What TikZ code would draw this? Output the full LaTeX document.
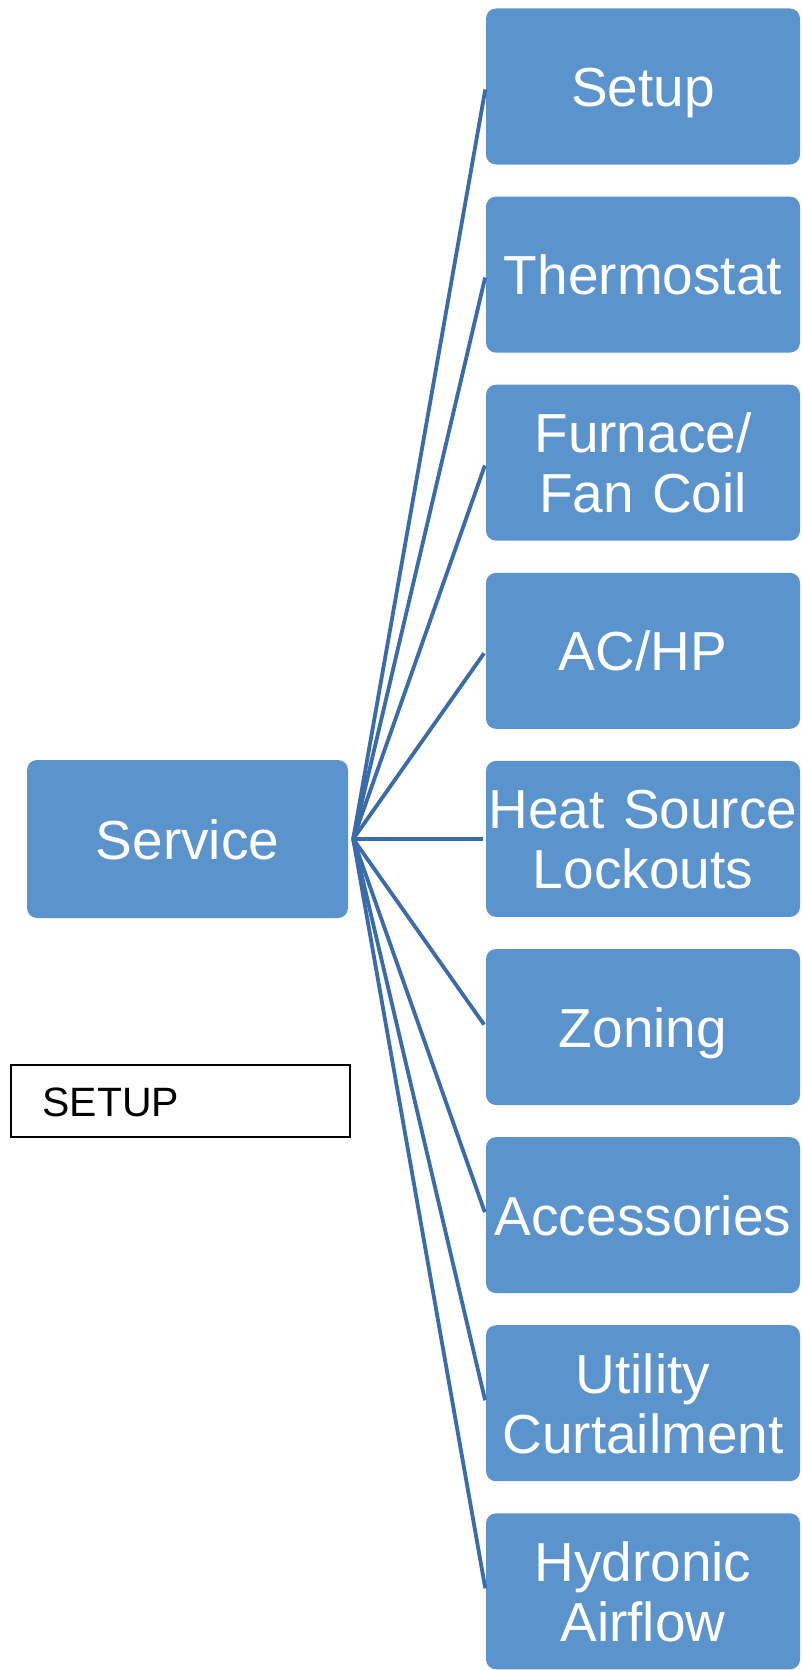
\documentclass[tikz,border=0pt]{standalone}
\usepackage{fontspec}
\setmainfont{Liberation Sans}
\usetikzlibrary{calc}
\definecolor{boxblue}{HTML}{5B93CD}
\definecolor{linkblue}{HTML}{3A6CAB}
\tikzset{
  tile/.style={fill=boxblue, draw=none, rounded corners=10pt, inner sep=0pt},
  childtile/.style={tile, minimum width=314pt, minimum height=156pt},
  lbl/.style={text=white, inner sep=0pt, text width=340pt, align=center,
    font=\fontsize{55}{60}\selectfont, anchor=base},
  link/.style={draw=linkblue, line width=3.8pt, shorten >=3pt}
}
\begin{document}
\begin{tikzpicture}[x=1pt, y=-1pt]
\useasboundingbox (0,0) rectangle (801,1670);

% parent box
\node[tile, minimum width=321pt, minimum height=158pt] (srv) at (187.5,839) {};
\node[lbl] (tsrv) at ($(srv.center)+(0,20)$) {Service};

% child boxes
\foreach \i in {0,...,8}{
  \node[childtile] (c\i) at (643,{86.5+188.1*\i}) {};
}

% single-line labels
\node[lbl] (t0) at ($(c0.center)+(0,20)$) {Setup};
\node[lbl] (t1) at ($(c1.center)+(0,20)$) {Thermostat};
\node[lbl] (t3) at ($(c3.center)+(0,20)$) {AC/HP};
\node[lbl] (t5) at ($(c5.center)+(0,20)$) {Zoning};
\node[lbl] (t6) at ($(c6.center)+(0,20)$) {Accessories};

% two-line labels
\node[lbl] (t2) at ($(c2.center)+(0,-10)$) {Furnace/\\Fan Coil};
\node[lbl] (t4) at ($(c4.center)+(0,-10)$) {Heat Source\\Lockouts};
\node[lbl] (t7) at ($(c7.center)+(0,-10)$) {Utility\\Curtailment};
\node[lbl] (t8) at ($(c8.center)+(0,-10)$) {Hydronic\\Airflow};

% connectors fanning out from the parent
\coordinate (hub) at ($(srv.east)+(5,0)$);
\foreach \i in {0,...,8}{
  \draw[link] (hub) -- (c\i.west);
}

% caption box
\node[draw=black, line width=1.2pt, minimum width=339pt, minimum height=72pt,
  inner sep=0pt] (cap) at (180.5,1101) {};
\node[anchor=base west, inner sep=0pt, font=\fontsize{41}{48}\selectfont]
  (tcap) at ($(cap.west)+(32,15)$) {SETUP};
\end{tikzpicture}
\end{document}
